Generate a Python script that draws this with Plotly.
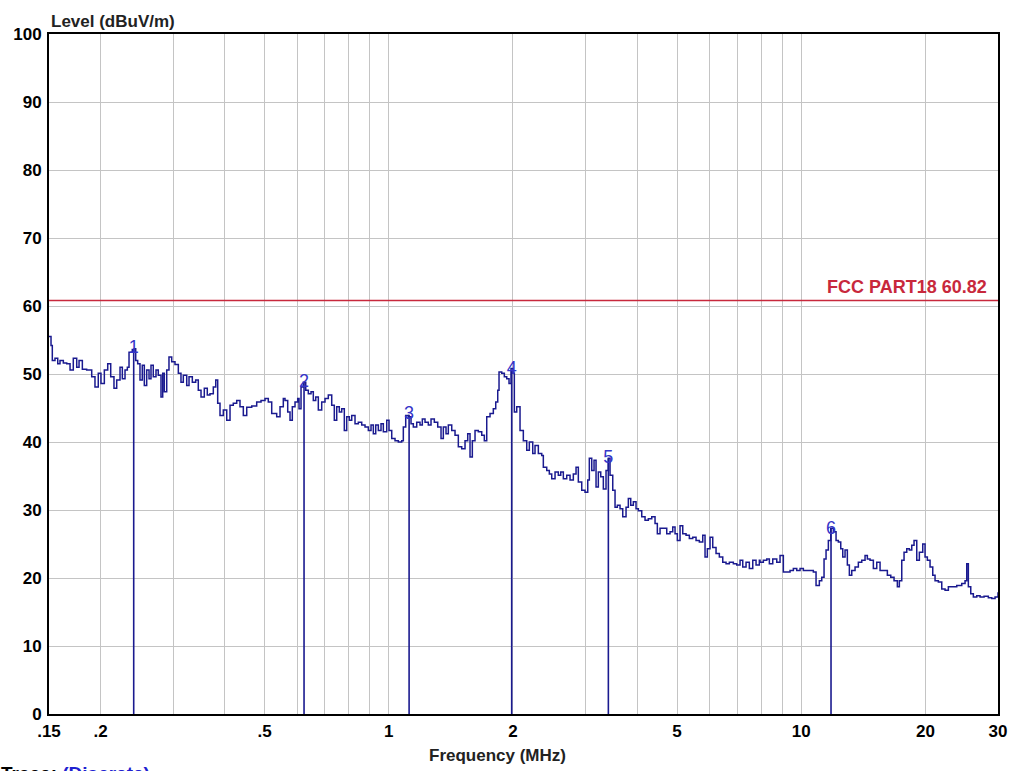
import plotly.graph_objects as go

# ---- data ----
freq_mhz = [
    0.150, 0.1517, 0.1528, 0.1551, 0.1575, 0.1595, 0.1625, 0.1656, 0.1687, 0.1718,
    0.1751, 0.1774, 0.1807, 0.1851, 0.1904, 0.1939, 0.1975, 0.2005, 0.2043, 0.2082,
    0.2117, 0.2156, 0.2189, 0.2230, 0.2259, 0.2293, 0.2323, 0.2345, 0.2388, 0.2415,
    0.2434, 0.2461, 0.2493, 0.2525, 0.2554, 0.2588, 0.2622, 0.2651, 0.2685, 0.2726,
    0.2761, 0.2803, 0.2830, 0.2855, 0.2894, 0.2931, 0.2976, 0.3031, 0.3088, 0.3134,
    0.3175, 0.3236, 0.3278, 0.3339, 0.3402, 0.3452, 0.3505, 0.3570, 0.3630, 0.3685,
    0.3754, 0.3805, 0.3847, 0.3897, 0.3970, 0.4046, 0.4121, 0.4197, 0.4278, 0.4357,
    0.4439, 0.4524, 0.4652, 0.4783, 0.4900, 0.5010, 0.5103, 0.5201, 0.5348, 0.5448,
    0.5549,
    0.5602, 0.5687, 0.5761, 0.5835, 0.5924, 0.6014, 0.6058, 0.6126, 0.6205, 0.6289,
    0.6381, 0.6478, 0.6561, 0.6650, 0.6747, 0.6876, 0.7004, 0.7134, 0.7271, 0.7377,
    0.7477, 0.7586, 0.7689, 0.7801, 0.7906, 0.8022, 0.8130, 0.8281, 0.8435, 0.8597,
    0.8757, 0.8920, 0.9055, 0.9172, 0.9296, 0.9432, 0.9575, 0.9699, 0.9885, 1.0013,
    1.0165, 1.0354, 1.0546, 1.0748, 1.0845, 1.0991, 1.1152, 1.1321, 1.1468, 1.1687,
    1.1905, 1.2058, 1.2242, 1.2469, 1.2659, 1.2894, 1.3141, 1.3386, 1.3559, 1.3764,
    1.3942, 1.4210, 1.4474, 1.4743, 1.5025, 1.5305, 1.5537, 1.5738, 1.5942, 1.6184,
    1.6485, 1.6801, 1.7046, 1.7276, 1.7598, 1.7925, 1.8167, 1.8371, 1.8504, 1.8786,
    1.9060, 1.9317, 1.9567, 1.9787, 2.0009, 2.0155, 2.0426, 2.0806, 2.1193,
    2.1599, 2.1915, 2.2335, 2.2624, 2.3045, 2.3486, 2.3697, 2.4151, 2.4504, 2.4835,
    2.5297, 2.5767, 2.6115, 2.6497, 2.7004, 2.7507, 2.8018, 2.8444, 2.8811, 2.9363,
    2.9910, 3.0364, 3.0636, 3.1050, 3.1451, 3.1804, 3.2215, 3.2650, 3.3127, 3.3630,
    3.4065, 3.4390, 3.4912, 3.5364, 3.5821, 3.6365, 3.6917, 3.7603, 3.8089, 3.8603,
    3.9168, 3.9762, 4.0277, 4.1048, 4.1812, 4.2589, 4.3406, 4.4213, 4.4784, 4.5464,
    4.6310, 4.7197, 4.8075, 4.8805, 4.9436, 5.0075, 5.0836, 5.1608, 5.2568, 5.3545,
    5.4571, 5.5586, 5.6620, 5.7705, 5.8451, 5.9206, 6.0106, 6.1019, 6.2153, 6.3309,
    6.4523, 6.5722, 6.6945, 6.8456, 6.9768, 7.1066, 7.2145, 7.3487, 7.4853, 7.6288,
    7.7706, 7.9151,
    7.9462, 8.0939, 8.2490, 8.3696, 8.5301, 8.7227, 8.8849, 9.0501, 9.2236, 9.3951,
    9.5698, 9.7532, 9.9346, 10.119, 10.313, 10.505, 10.700, 10.863, 11.065, 11.214,
    11.359, 11.487, 11.635, 11.792, 11.965, 12.146, 12.303, 12.469, 12.609, 12.772,
    12.937, 13.083, 13.259, 13.506, 13.757, 14.020, 14.281, 14.466, 14.685, 14.959,
    15.245, 15.529, 15.879, 16.175, 16.485, 16.791, 17.103, 17.295, 17.529, 17.755,
    18.025, 18.289, 18.535, 18.775, 19.060, 19.339, 19.709, 19.964, 20.222, 20.529,
    20.841, 21.110, 21.503, 21.915, 22.323, 22.738, 23.303, 23.829, 24.504, 24.959,
    25.197, 25.423, 25.767, 26.143, 26.644, 27.140, 27.753, 28.427, 28.972, 29.511,
    30.0,
]

level_dbuv = [
    55.5, 54.2, 52.0, 52.3, 51.5, 52.0, 51.6, 51.5, 50.6, 52.3,
    51.0, 52.0, 50.7, 50.6, 49.6, 48.1, 50.1, 48.6, 50.6, 51.5,
    49.6, 47.9, 49.1, 51.0, 49.3, 50.6, 51.0, 53.2, 53.6, 53.7,
    52.0, 51.5, 49.1, 51.3, 48.3, 50.6, 49.3, 51.3, 49.6, 50.6,
    49.8, 46.6, 50.1, 47.4, 50.6, 52.5, 51.8, 51.4, 50.1, 48.8,
    49.8, 48.3, 49.6, 48.8, 49.1, 47.6, 46.6, 47.9, 46.9, 47.1,
    48.1, 49.1, 45.7, 43.9, 44.7, 43.2, 45.4, 45.7, 46.1, 45.2,
    43.9, 45.1, 45.3, 45.9, 46.1, 46.4, 45.9, 44.2, 43.7, 45.2,
    46.4,
    46.1, 44.4, 43.2, 45.2, 45.9, 46.4, 44.9, 48.1, 48.8, 47.6,
    47.1, 47.4, 46.1, 46.6, 44.7, 45.9, 46.4, 46.9, 45.4, 43.2,
    45.2, 44.4, 44.9, 41.7, 43.7, 43.2, 43.9, 42.7, 42.9, 42.5,
    42.2, 41.7, 42.5, 41.2, 42.5, 41.7, 42.7, 41.5, 43.2, 41.7,
    40.5, 40.2, 40.0, 40.2, 42.2, 43.9, 43.7, 42.7, 42.2, 42.9,
    42.5, 43.4, 42.9, 42.5, 43.4, 42.9, 42.2, 40.5, 42.2, 41.2,
    42.5, 41.7, 41.0, 39.3, 39.0, 40.2, 41.2, 37.8, 40.2, 41.7,
    41.5, 41.0, 40.2, 43.7, 44.2, 44.9, 45.9, 47.6, 50.3, 50.1,
    49.6, 49.3, 48.6, 50.8, 50.1, 44.4, 45.2, 41.7, 40.2,
    38.8, 40.0, 38.3, 39.5, 38.3, 38.0, 36.3, 35.8, 35.3, 34.6,
    35.6, 35.1, 35.6, 34.6, 35.1, 34.4, 35.3, 36.3, 34.1, 32.9,
    32.6, 34.4, 37.6, 35.8, 37.3, 33.4, 35.6, 34.9, 33.1, 35.8,
    37.6, 35.1, 32.9, 30.4, 30.7, 30.2, 29.0, 30.4, 31.7, 30.7,
    31.2, 30.2, 29.9, 29.0, 28.5, 28.7, 29.0, 28.0, 26.5, 27.3,
    27.3, 26.5, 26.8, 27.5, 26.5, 25.5, 27.7, 26.5, 26.3, 25.8,
    26.0, 25.5, 25.3, 26.3, 23.1, 24.3, 26.0, 24.5, 23.6, 23.1,
    22.3, 22.1, 22.3, 22.1, 21.9, 22.6, 21.6, 22.3, 21.4, 22.6,
    21.9, 22.6,
    22.3, 22.6, 22.8, 22.1, 22.8, 22.3, 23.3, 20.9, 20.9, 21.1,
    21.4, 21.1, 21.4, 21.1, 21.1, 21.1, 20.9, 18.9, 19.6, 20.1,
    22.8, 24.1, 25.5, 27.3, 26.8, 25.5, 25.3, 24.3, 23.1, 24.1,
    21.9, 20.4, 21.1, 21.6, 22.3, 22.6, 23.3, 22.8, 22.6, 21.4,
    22.3, 21.1, 21.1, 20.4, 20.1, 19.6, 18.7, 19.6, 22.6, 23.8,
    24.3, 24.1, 24.8, 25.5, 22.6, 23.8, 25.0, 23.1, 22.6, 21.6,
    20.4, 19.6, 19.4, 18.4, 18.2, 18.7, 18.7, 18.9, 19.2, 19.6,
    22.1, 18.7, 17.7, 17.2, 17.4, 17.2, 17.3, 17.1, 17.0, 17.2,
    17.9,
]

marker_freq = [0.2407, 0.623, 1.120, 1.986, 3.407, 11.81]
marker_level = [53.7, 48.8, 44.0, 50.6, 37.6, 27.2]
marker_label = ["1", "2", "3", "4", "5", "6"]

limit_level = 60.82
limit_label = "FCC PART18 60.82"

x_tick_vals = [0.15, 0.2, 0.3, 0.4, 0.5, 0.6, 0.7, 0.8, 0.9, 1, 2, 3, 4, 5, 6, 7, 8, 9, 10, 20, 30]
x_tick_text = [".15", ".2", "", "", ".5", "", "", "", "", "1", "2", "", "", "5", "", "", "", "", "10", "20", "30"]
y_tick_vals = [0, 10, 20, 30, 40, 50, 60, 70, 80, 90, 100]

# ---- styles ----
FONT = "Liberation Sans, Arial, sans-serif"
TRACE_COLOR = "#1a1a8f"
LIMIT_COLOR = "#c8283c"
GRID = "#c4c4c4"

fig = go.Figure()

# limit line
fig.add_trace(go.Scatter(
    x=[x_tick_vals[0], x_tick_vals[-1]], y=[limit_level, limit_level],
    mode="lines", line=dict(color=LIMIT_COLOR, width=1.5), hoverinfo="skip", showlegend=False))

# marker vertical lines
mx, my = [], []
for f, lv in zip(marker_freq, marker_level):
    mx += [f, f, None]
    my += [0, lv, None]
fig.add_trace(go.Scatter(x=mx, y=my, mode="lines",
                         line=dict(color=TRACE_COLOR, width=1.6), showlegend=False, hoverinfo="skip"))

# measured trace
fig.add_trace(go.Scatter(x=freq_mhz, y=level_dbuv, mode="lines",
                         line=dict(color=TRACE_COLOR, width=1.5, shape="hv"), showlegend=False))

# marker labels
fig.add_trace(go.Scatter(x=marker_freq, y=marker_level, mode="text", text=marker_label,
                         textposition="middle center",
                         textfont=dict(family=FONT, size=18, color="#3535c8"),
                         showlegend=False, hoverinfo="skip"))

fig.update_xaxes(
    type="log", range=[-0.8239087, 1.4771213],
    tickvals=x_tick_vals, ticktext=x_tick_text,
    tickfont=dict(family=FONT, size=17, color="black", weight="bold"),
    showgrid=True, gridcolor=GRID, gridwidth=1,
    showline=True, linecolor="black", linewidth=2, mirror=True,
    ticks="", ticklabelstandoff=1, zeroline=False,
)
fig.update_yaxes(
    range=[0, 100], tickvals=y_tick_vals,
    tickfont=dict(family=FONT, size=17, color="black", weight="bold"),
    showgrid=True, gridcolor=GRID, gridwidth=1,
    showline=True, linecolor="black", linewidth=2, mirror=True,
    ticks="", ticklabelstandoff=2, zeroline=False,
)

fig.add_annotation(xref="paper", yref="y", x=0.9905, y=62.8, text=limit_label,
                   showarrow=False, xanchor="right", yanchor="middle",
                   font=dict(family=FONT, size=18, color=LIMIT_COLOR, weight="bold"))
fig.add_annotation(xref="paper", yref="paper", x=0.0, y=1.0184, text="Level (dBuV/m)",
                   showarrow=False, xanchor="left", yanchor="middle",
                   font=dict(family=FONT, size=17, color="#222222", weight="bold"))
fig.add_annotation(xref="paper", yref="paper", x=(497 - 49) / 949, y=-(755 - 713.5) / 679.5,
                   text="Frequency (MHz)", showarrow=False, xanchor="center", yanchor="middle",
                   font=dict(family=FONT, size=17, color="#222222", weight="bold"))
fig.add_annotation(xref="paper", yref="paper", x=(152 - 49) / 949, y=-(773 - 713.5) / 679.5,
                   text="Trace: <span style='color:#2020d0'>(Discrete)</span>",
                   showarrow=False, xanchor="right", yanchor="middle",
                   font=dict(family=FONT, size=19, color="black", weight="bold"))

fig.update_layout(
    width=1019, height=771,
    margin=dict(l=49, r=21, t=34, b=57, pad=0),
    paper_bgcolor="white", plot_bgcolor="white",
    showlegend=False,
)

fig.write_html("out.html", config={"displayModeBar": False},
               post_script="document.body.style.margin='0';document.body.style.overflow='hidden';")
